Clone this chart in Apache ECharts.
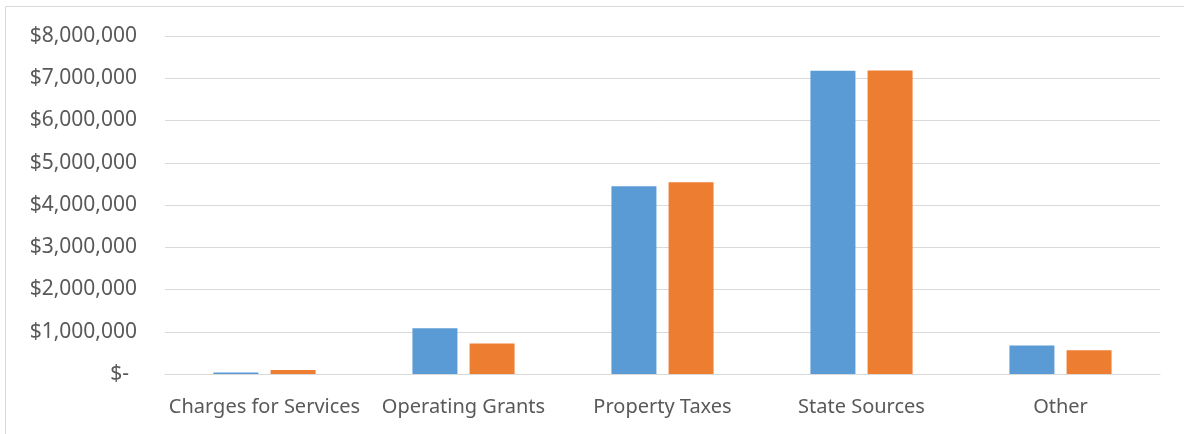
<!DOCTYPE html>
<html>
<head>
<meta charset="utf-8">
<script src="https://cdn.jsdelivr.net/npm/echarts@6/dist/echarts.min.js"></script>
<style>
  html, body { margin: 0; padding: 0; background: #fff; }
  #chart { width: 1184px; height: 434px; }
</style>
</head>
<body>
<div id="chart"></div>
<script>
// Revenue by source, two years side by side
const categories = ['Charges for Services', 'Operating Grants', 'Property Taxes', 'State Sources', 'Other'];
const seriesA = [35000, 1080000, 4445000, 7180000, 675000];
const seriesB = [95000, 720000, 4540000, 7185000, 565000];
const yTicks = [0, 1000000, 2000000, 3000000, 4000000, 5000000, 6000000, 7000000, 8000000];

const textColor = '#595959';
const fontFamily = '"Noto Sans", "Open Sans", sans-serif';
const fontSize = 20;

function money(v) {
  if (v === 0) return '{z|$-}';
  return '$' + v.toLocaleString('en-US');
}

const chart = echarts.init(document.getElementById('chart'), null, { renderer: 'canvas' });
chart.setOption({
  animation: false,
  backgroundColor: '#fff',
  graphic: [{
    type: 'rect',
    shape: { x: 5.5, y: 6.5, width: 1300, height: 600 },
    style: { fill: 'none', stroke: '#D9D9D9', lineWidth: 1 },
    silent: true
  }],
  grid: { left: 165, right: 24, top: 36, bottom: 60, containLabel: false },
  xAxis: {
    type: 'category',
    data: categories,
    axisLine: { show: true, lineStyle: { color: '#D9D9D9', width: 1 } },
    axisTick: { show: false },
    axisLabel: { interval: 0, color: textColor, fontSize: fontSize, fontFamily: fontFamily, margin: 23 },
    splitLine: { show: false }
  },
  yAxis: {
    type: 'value',
    min: yTicks[0],
    max: yTicks[yTicks.length - 1],
    interval: yTicks[1] - yTicks[0],
    axisLine: { show: false },
    axisTick: { show: false },
    splitLine: { lineStyle: { color: '#D9D9D9', width: 1 } },
    axisLabel: {
      color: textColor, fontSize: 21, fontFamily: fontFamily, margin: 28,
      formatter: money,
      rich: { z: { color: textColor, fontSize: 21, fontFamily: fontFamily, padding: [0, 8, 0, 0] } }
    }
  },
  series: [
    { type: 'bar', data: seriesA, barWidth: 45, barGap: '27%', itemStyle: { color: '#5B9BD5' } },
    { type: 'bar', data: seriesB, barWidth: 45, barGap: '27%', itemStyle: { color: '#ED7D31' } }
  ]
});
</script>
</body>
</html>
